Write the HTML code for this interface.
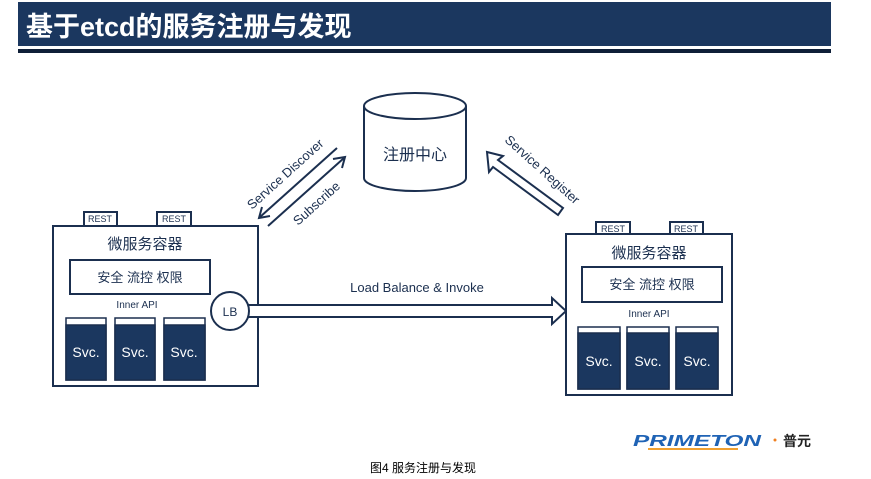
<!DOCTYPE html>
<html><head><meta charset="utf-8"><style>
body{margin:0;background:#fff;}
svg{display:block;font-family:"Liberation Sans","Noto Sans CJK SC",sans-serif;}
</style></head><body>
<svg width="871" height="479" viewBox="0 0 871 479" xmlns="http://www.w3.org/2000/svg">
<rect x="18" y="2" width="813" height="44" fill="#1b375f"/>
<rect x="18" y="49" width="813" height="4" fill="#0f1f38"/>
<text x="26" y="36" font-size="27" font-weight="bold" fill="#fff">基于etcd的服务注册与发现</text>
<g stroke="#1b2f4f" stroke-width="2" fill="#fff">
<path d="M364 106 V178 A51 13 0 0 0 466 178 V106"/>
<ellipse cx="415" cy="106" rx="51" ry="13"/>
</g>
<text x="415" y="160" font-size="16" text-anchor="middle" fill="#1b2f4f">注册中心</text>
<g stroke="#1b2f4f" stroke-width="2" fill="none">
<line x1="337" y1="148" x2="260" y2="217"/><polyline points="262,207 259,218 270,216"/>
<line x1="268" y1="226" x2="344" y2="158"/><polyline points="333,159 345,157 342,168"/>
<polygon fill="#fff" points="487,152 503,156 498,160 563,208 558,215 493,167 489,172"/>
</g>
<text transform="translate(252,210) rotate(-42)" font-size="13" fill="#1b2f4f">Service Discover</text>
<text transform="translate(298,226) rotate(-42)" font-size="13" fill="#1b2f4f">Subscribe</text>
<text transform="translate(504,141) rotate(42)" font-size="13" fill="#1b2f4f">Service Register</text>
<!-- left box -->
<g stroke="#1b2f4f" stroke-width="2" fill="#fff">
<rect x="84" y="212" width="33" height="14"/><rect x="157" y="212" width="34" height="14"/>
<rect x="53" y="226" width="205" height="160"/>
<rect x="70" y="260" width="140" height="34"/>
</g>
<g font-size="9" fill="#1b2f4f" text-anchor="middle"><text x="100" y="222">REST</text><text x="174" y="222">REST</text></g>
<text x="145" y="249" font-size="15" text-anchor="middle" fill="#1b2f4f">微服务容器</text>
<text x="140" y="282" font-size="13" text-anchor="middle" fill="#1b2f4f">安全 流控 权限</text>
<text x="137" y="308" font-size="10" text-anchor="middle" fill="#1b2f4f">Inner API</text>
<g stroke="#1b2f4f" stroke-width="1.5">
<rect x="66" y="318" width="40" height="62" fill="#fff"/><rect x="66" y="325" width="40" height="55" fill="#1b375f"/>
<rect x="115" y="318" width="40" height="62" fill="#fff"/><rect x="115" y="325" width="40" height="55" fill="#1b375f"/>
<rect x="164" y="318" width="41" height="62" fill="#fff"/><rect x="164" y="325" width="41" height="55" fill="#1b375f"/>
</g>
<g font-size="14" fill="#fff" text-anchor="middle"><text x="86" y="357">Svc.</text><text x="135" y="357">Svc.</text><text x="184" y="357">Svc.</text></g>
<!-- arrow -->
<polygon points="248,305 552,305 552,298 566,311 552,324 552,317 248,317" fill="#fff" stroke="#1b2f4f" stroke-width="2"/>
<circle cx="230" cy="311" r="19" fill="#fff" stroke="#1b2f4f" stroke-width="2"/>
<text x="230" y="316" font-size="12" text-anchor="middle" fill="#1b2f4f">LB</text>
<text x="417" y="292" font-size="13" text-anchor="middle" fill="#1b2f4f">Load Balance &amp; Invoke</text>
<!-- right box -->
<g stroke="#1b2f4f" stroke-width="2" fill="#fff">
<rect x="596" y="222" width="34" height="12"/><rect x="670" y="222" width="33" height="12"/>
<rect x="566" y="234" width="166" height="161"/>
<rect x="582" y="267" width="140" height="35"/>
</g>
<g font-size="9" fill="#1b2f4f" text-anchor="middle"><text x="613" y="232">REST</text><text x="686" y="232">REST</text></g>
<text x="649" y="258" font-size="15" text-anchor="middle" fill="#1b2f4f">微服务容器</text>
<text x="652" y="289" font-size="13" text-anchor="middle" fill="#1b2f4f">安全 流控 权限</text>
<text x="649" y="317" font-size="10" text-anchor="middle" fill="#1b2f4f">Inner API</text>
<g stroke="#1b2f4f" stroke-width="1.5">
<rect x="578" y="327" width="42" height="62" fill="#fff"/><rect x="578" y="333" width="42" height="56" fill="#1b375f"/>
<rect x="627" y="327" width="42" height="62" fill="#fff"/><rect x="627" y="333" width="42" height="56" fill="#1b375f"/>
<rect x="676" y="327" width="42" height="62" fill="#fff"/><rect x="676" y="333" width="42" height="56" fill="#1b375f"/>
</g>
<g font-size="14" fill="#fff" text-anchor="middle"><text x="599" y="366">Svc.</text><text x="648" y="366">Svc.</text><text x="697" y="366">Svc.</text></g>
<!-- logo -->
<text x="633" y="446" font-size="16" font-weight="bold" font-style="italic" fill="#1f63b5" textLength="128" lengthAdjust="spacingAndGlyphs">PRIMETON</text>
<rect x="648" y="448" width="90" height="2" fill="#f0a030"/>
<circle cx="775" cy="440" r="1.5" fill="#f08020"/>
<text x="783" y="446" font-size="14" font-weight="bold" fill="#222">普元</text>
<text x="423" y="472" font-size="12" text-anchor="middle" fill="#000">图4 服务注册与发现</text>
</svg>
</body></html>
